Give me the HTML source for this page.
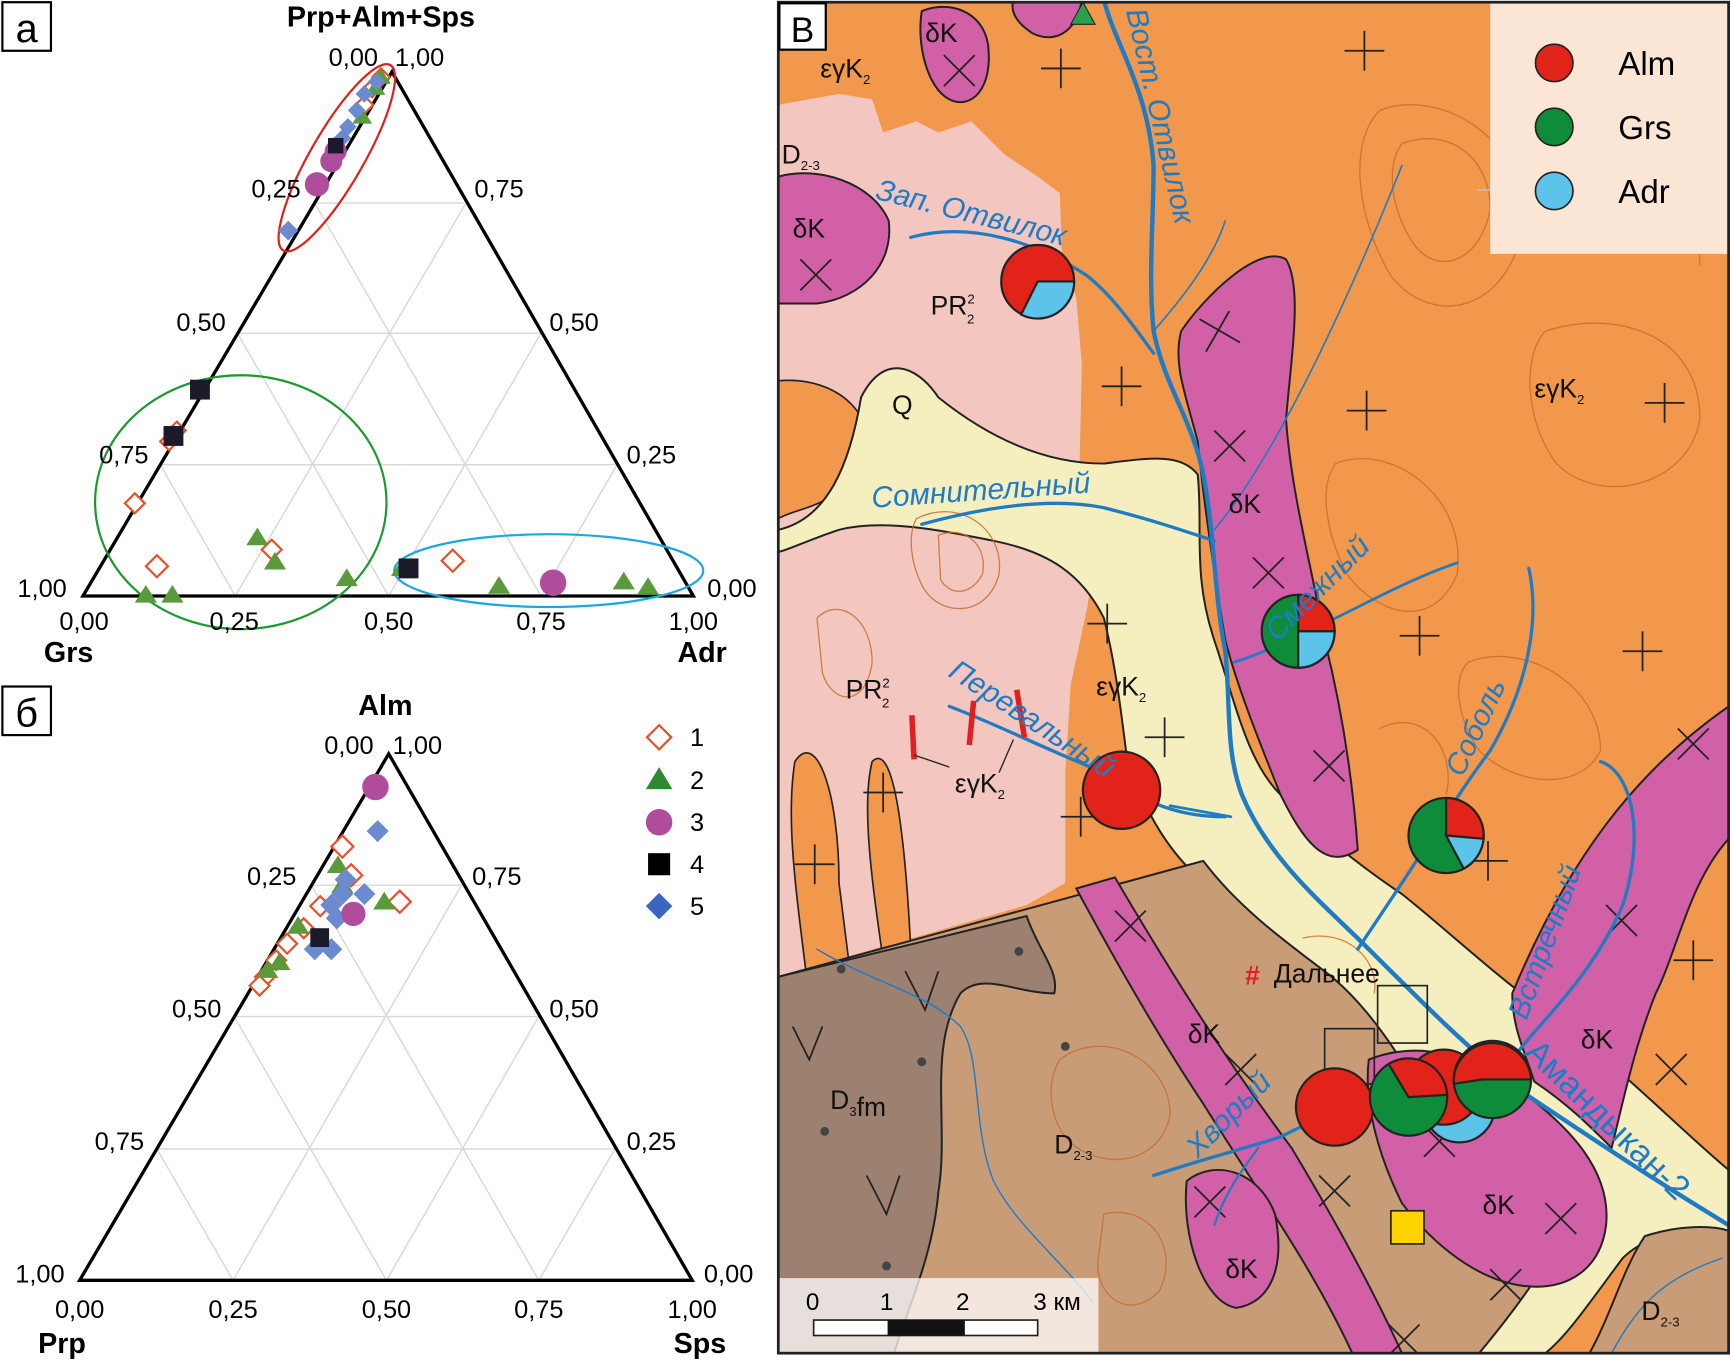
<!DOCTYPE html>
<html><head><meta charset="utf-8"><style>html,body{margin:0;padding:0;background:#fff}svg{display:block}</style></head><body>
<svg width="1731" height="1362" viewBox="0 0 1568 1234" xmlns="http://www.w3.org/2000/svg" font-family="Liberation Sans, Arial, sans-serif">
<defs>
<clipPath id="mc"><rect x="705" y="2" width="861" height="1224"/></clipPath>
</defs>
<!-- ===== Panel a ===== -->
<rect x="2" y="2" width="44" height="44" fill="#fff" stroke="#000" stroke-width="2"/>
<text x="24" y="38" font-size="36" text-anchor="middle">а</text>
<g stroke="#d8d8d8" stroke-width="1.3">
<line x1="145" y1="421" x2="559" y2="421"/><line x1="215" y1="302" x2="490" y2="302"/><line x1="285" y1="184" x2="420" y2="184"/>
<line x1="213" y1="540" x2="422" y2="184"/><line x1="352" y1="540" x2="490" y2="302"/><line x1="490" y1="540" x2="559" y2="421"/>
<line x1="213" y1="540" x2="145" y2="421"/><line x1="352" y1="540" x2="215" y2="302"/><line x1="490" y1="540" x2="285" y2="184"/>
</g>
<polygon points="355,65 75,540 628,540" fill="none" stroke="#000" stroke-width="3"/>
<ellipse cx="305" cy="143" rx="97" ry="24" transform="rotate(-60 305 143)" fill="none" stroke="#e02020" stroke-width="2"/>
<ellipse cx="218" cy="455" rx="132" ry="115" fill="none" stroke="#1a9a30" stroke-width="2"/>
<ellipse cx="497" cy="517" rx="140" ry="33" fill="none" stroke="#1ea6e0" stroke-width="2"/>
<g font-size="23" text-anchor="middle">
<text x="345" y="24" font-weight="bold" font-size="26">Prp+Alm+Sps</text>
<text x="320" y="60">0,00</text><text x="380" y="60">1,00</text>
<text x="250" y="179">0,25</text><text x="452" y="179">0,75</text>
<text x="182" y="300">0,50</text><text x="520" y="300">0,50</text>
<text x="112" y="420">0,75</text><text x="590" y="420">0,25</text>
<text x="38" y="541">1,00</text><text x="663" y="541">0,00</text>
<text x="76" y="571">0,00</text><text x="212" y="571">0,25</text><text x="352" y="571">0,50</text><text x="490" y="571">0,75</text><text x="628" y="571">1,00</text>
<text x="62" y="600" font-weight="bold" font-size="26">Grs</text><text x="636" y="600" font-weight="bold" font-size="26">Adr</text>
</g>
<g fill="#fff" stroke="#e8502a" stroke-width="2">
<path d="M345,62l8,8-8,8-8-8z"/><path d="M337,72l8,8-8,8-8-8z"/><path d="M330,87l8,8-8,8-8-8z"/><path d="M300,135l8,8-8,8-8-8z"/>
<path d="M160,382l8,8-8,8-8-8z"/><path d="M153,392l8,8-8,8-8-8z"/><path d="M122,447l9,9-9,9-9-9z"/><path d="M142,503l10,10-10,10-10-10z"/>
<path d="M246,489l9,9-9,9-9-9z"/><path d="M410,498l10,10-10,10-10-10z"/>
</g>
<g fill="#5a9a3a">
<path d="M345,62l9,14h-18z"/><path d="M340,72l9,14h-18z"/><path d="M328,98l9,14h-18z"/>
<path d="M233,478l10,16h-20z"/><path d="M249,500l10,16h-20z"/><path d="M314,515l10,16h-20z"/><path d="M364,506l10,16h-20z"/>
<path d="M452,522l10,16h-20z"/><path d="M565,518l10,16h-20z"/><path d="M587,523l10,16h-20z"/><path d="M132,530l10,16h-20z"/><path d="M156,530l10,16h-20z"/>
</g>
<g fill="#6c8ad0">
<path d="M341,66l8,8-8,8-8-8z"/><path d="M330,77l8,8-8,8-8-8z"/><path d="M323,92l8,8-8,8-8-8z"/><path d="M315,107l8,8-8,8-8-8z"/><path d="M310,117l8,8-8,8-8-8z"/><path d="M261,200l9,9-9,9-9-9z"/>
</g>
<g fill="#b04c9c"><circle cx="304" cy="137" r="10"/><circle cx="300" cy="146" r="10"/><circle cx="287" cy="167" r="11"/><circle cx="501" cy="528" r="12"/></g>
<g fill="#1a1a2a"><rect x="172" y="344" width="18" height="18"/><rect x="148" y="386" width="18" height="18"/><rect x="361" y="506" width="18" height="18"/><rect x="297" y="125" width="14" height="14"/></g>

<!-- ===== Panel б ===== -->
<rect x="2" y="622" width="44" height="44" fill="#fff" stroke="#000" stroke-width="2"/>
<text x="24" y="658" font-size="36" text-anchor="middle">б</text>
<g stroke="#d8d8d8" stroke-width="1.3">
<line x1="142" y1="1041" x2="557" y2="1041"/><line x1="212" y1="921" x2="488" y2="921"/><line x1="282" y1="802" x2="418" y2="802"/>
<line x1="211" y1="1160" x2="418" y2="802"/><line x1="350" y1="1160" x2="488" y2="921"/><line x1="488" y1="1160" x2="557" y2="1041"/>
<line x1="211" y1="1160" x2="142" y2="1041"/><line x1="350" y1="1160" x2="212" y2="921"/><line x1="488" y1="1160" x2="282" y2="802"/>
</g>
<polygon points="352,683 72,1160 627,1160" fill="none" stroke="#000" stroke-width="3"/>
<g font-size="23" text-anchor="middle">
<text x="349" y="648" font-weight="bold" font-size="26">Alm</text>
<text x="316" y="683">0,00</text><text x="378" y="683">1,00</text>
<text x="246" y="802">0,25</text><text x="450" y="802">0,75</text>
<text x="178" y="922">0,50</text><text x="520" y="922">0,50</text>
<text x="108" y="1042">0,75</text><text x="590" y="1042">0,25</text>
<text x="36" y="1162">1,00</text><text x="660" y="1162">0,00</text>
<text x="72" y="1194">0,00</text><text x="211" y="1194">0,25</text><text x="350" y="1194">0,50</text><text x="488" y="1194">0,75</text><text x="627" y="1194">1,00</text>
<text x="56" y="1226" font-weight="bold" font-size="26">Prp</text><text x="634" y="1226" font-weight="bold" font-size="26">Sps</text>
</g>
<g fill="#fff" stroke="#e8502a" stroke-width="2">
<path d="M310,757l10,10-10,10-10-10z"/><path d="M318,783l10,10-10,10-10-10z"/><path d="M362,807l10,10-10,10-10-10z"/><path d="M290,812l9,9-9,9-9-9z"/><path d="M275,832l9,9-9,9-9-9z"/>
<path d="M260,846l9,9-9,9-9-9z"/><path d="M250,861l9,9-9,9-9-9z"/><path d="M240,876l9,9-9,9-9-9z"/><path d="M235,884l9,9-9,9-9-9z"/>
</g>
<g fill="#5a9a3a">
<path d="M306,775l10,16h-20z"/><path d="M310,793l10,16h-20z"/><path d="M348,808l10,16h-20z"/><path d="M270,830l10,16h-20z"/><path d="M253,863l10,16h-20z"/><path d="M242,870l10,16h-20z"/>
</g>
<g fill="#6c8ad0">
<path d="M342,743l10,10-10,10-10-10z"/><path d="M313,787l10,10-10,10-10-10z"/><path d="M330,800l10,10-10,10-10-10z"/><path d="M300,810l10,10-10,10-10-10z"/><path d="M305,822l10,10-10,10-10-10z"/>
<path d="M285,850l10,10-10,10-10-10z"/><path d="M300,850l10,10-10,10-10-10z"/><path d="M310,800l10,10-10,10-10-10z"/>
</g>
<g fill="#b04c9c"><circle cx="340" cy="713" r="12"/><circle cx="320" cy="828" r="11"/></g>
<rect x="281" y="841" width="17" height="17" fill="#1a1a2a"/>
<path d="M597,657l11,11-11,11-11-11z" fill="#fff" stroke="#e8502a" stroke-width="2"/>
<path d="M597,695l12,20h-24z" fill="#2e8a2e"/>
<circle cx="597" cy="745" r="12" fill="#b04c9c"/>
<rect x="587" y="773" width="20" height="20" fill="#000"/>
<path d="M597,809l12,12-12,12-12-12z" fill="#3a66c0"/>
<g font-size="23"><text x="625" y="676">1</text><text x="625" y="715">2</text><text x="625" y="753">3</text><text x="625" y="791">4</text><text x="625" y="829">5</text></g>

<!-- ===== Map ===== -->
<g clip-path="url(#mc)">
<rect x="705" y="2" width="861" height="1224" fill="#f2984c"/>
<path d="M705,95 L760,85 L790,90 L800,120 L830,110 L850,120 L880,110 L910,140 L940,160 L960,175 L962,230 L975,270 L980,330 L978,420 L995,480 L985,550 L970,620 L965,700 L965,800 L930,820 L705,885 Z" fill="#f3c6c0"/>
<path d="M720,690 C740,660 760,720 760,800 L770,880 L730,880 C720,800 712,740 720,690Z" fill="#f2984c" stroke="#222" stroke-width="1.5"/>
<path d="M790,690 C810,670 820,760 825,860 L800,870 C790,800 780,730 790,690Z" fill="#f2984c" stroke="#222" stroke-width="1.5"/>
<path d="M705,345 C760,340 800,380 780,420 C760,460 720,460 705,470Z" fill="#f2984c" stroke="#222" stroke-width="1.5"/>
<path d="M705,480 C750,470 770,420 780,360 C800,320 830,330 850,360 C900,400 950,420 1000,420 C1040,415 1070,410 1085,430 C1090,480 1080,520 1100,580 C1120,640 1130,690 1160,720 C1200,760 1240,790 1270,810 C1320,850 1360,890 1420,930 C1480,980 1530,1030 1566,1060 L1566,1120 C1540,1120 1500,1110 1470,1140 C1440,1180 1420,1210 1400,1226 L1330,1226 C1360,1190 1400,1150 1420,1110 C1380,1080 1330,1050 1280,1030 C1250,1000 1230,960 1200,920 C1160,870 1120,830 1080,790 C1050,760 1030,720 1020,680 C1015,640 1010,600 1000,560 C980,520 950,500 900,490 C850,480 800,470 760,480 C730,490 710,500 705,500Z" fill="#f5efc0" stroke="#222" stroke-width="1.8"/>
<path d="M1000,1160 C1010,1190 1020,1210 1020,1226 L990,1226 C990,1200 992,1180 1000,1160Z" fill="#f5efc0"/>
<path d="M705,885 L1090,780 C1120,820 1160,850 1200,880 C1240,910 1270,960 1300,1010 C1340,1050 1390,1080 1420,1110 C1400,1150 1370,1190 1340,1226 L705,1226Z" fill="#c99c78" stroke="#222" stroke-width="1.8"/>
<path d="M1490,1120 C1520,1110 1550,1110 1566,1115 L1566,1226 L1440,1226 C1460,1190 1470,1150 1490,1120Z" fill="#c99c78" stroke="#222" stroke-width="1.8"/>
<path d="M705,885 L930,830 C940,860 960,880 955,900 C920,900 890,880 870,900 C840,950 860,1020 850,1080 C845,1140 820,1190 810,1226 L705,1226Z" fill="#9c8070" stroke="#222" stroke-width="1.8"/>
<g fill="#d260a6" stroke="#222" stroke-width="1.8">
<path d="M918,0 L980,0 C975,30 955,40 935,30 C920,20 915,10 918,0Z"/>
<path d="M835,10 C860,0 890,10 895,40 C900,80 880,100 860,90 C840,80 830,40 835,10Z"/>
<path d="M705,160 C740,150 790,165 805,200 C810,240 780,270 740,275 L705,275Z"/>
<path d="M1070,300 C1090,270 1140,220 1165,235 C1180,260 1170,320 1165,380 C1170,450 1190,520 1200,580 C1215,640 1225,700 1230,770 C1200,790 1180,760 1160,720 C1140,670 1120,620 1110,580 C1100,520 1090,450 1085,400 C1075,360 1062,330 1070,300Z"/>
<path d="M975,805 L1010,795 C1060,880 1110,960 1170,1040 C1200,1090 1240,1160 1270,1226 L1225,1226 C1190,1150 1140,1080 1090,1000 C1050,940 1010,870 975,805Z"/>
<path d="M1240,960 C1290,940 1340,960 1380,990 C1420,1020 1460,1060 1455,1110 C1450,1150 1420,1170 1380,1165 C1340,1160 1300,1130 1270,1090 C1250,1050 1235,1000 1240,960Z"/>
<path d="M1075,1070 C1100,1050 1140,1060 1155,1100 C1165,1150 1150,1180 1120,1185 C1090,1180 1070,1120 1075,1070Z"/>
<path d="M1370,900 C1420,780 1480,700 1566,640 L1566,760 C1530,800 1520,860 1500,900 C1480,950 1470,1000 1460,1040 C1440,1020 1420,1000 1390,980 C1380,950 1370,930 1370,900Z"/>
</g>
<g fill="none" stroke="#c86a2a" stroke-width="1.2" opacity="0.8">
<path d="M1250,100 C1300,80 1380,120 1380,200 C1370,280 1300,300 1260,250 C1230,200 1220,130 1250,100Z"/>
<path d="M1270,130 C1310,115 1350,140 1350,190 C1340,240 1300,250 1280,220 C1260,190 1255,150 1270,130Z"/>
<path d="M1400,300 C1460,280 1540,300 1540,380 C1530,440 1450,460 1410,420 C1380,380 1380,320 1400,300Z"/>
<path d="M1210,420 C1260,400 1330,450 1320,520 C1300,570 1250,560 1220,520 C1200,480 1195,440 1210,420Z"/>
<path d="M1330,600 C1380,580 1450,620 1450,680 C1430,720 1370,710 1340,680 C1320,650 1315,615 1330,600Z"/>
<path d="M830,470 C870,450 910,480 905,520 C895,560 850,560 835,530 C825,510 822,485 830,470Z"/>
<path d="M850,485 C875,475 895,495 890,520 C880,540 860,540 852,525Z"/>
<path d="M960,960 C1000,930 1060,960 1060,1010 C1050,1060 990,1060 965,1030 C950,1010 948,980 960,960Z"/>
<path d="M1000,1100 C1040,1090 1070,1130 1050,1170 C1020,1200 990,1170 995,1140Z"/>
<path d="M740,560 C760,540 790,560 790,600 C785,640 755,640 745,610Z"/>
<path d="M1180,850 C1220,840 1250,870 1245,900"/>
<path d="M1420,150 C1480,140 1540,180 1540,240"/>
<path d="M1250,660 C1290,640 1320,680 1310,720"/>
</g>
<g stroke="#222" stroke-width="1.6" fill="none">
<path d="M943,62h36M961,44v36"/><path d="M1218,46h36M1236,28v36"/><path d="M998,350h36M1016,332v36"/><path d="M1220,372h36M1238,354v36"/>
<path d="M1490,365h36M1508,347v36"/><path d="M985,565h36M1003,547v36"/><path d="M1268,576h36M1286,558v36"/><path d="M1470,590h36M1488,572v36"/>
<path d="M1037,668h36M1055,650v36"/><path d="M782,718h36M800,700v36"/><path d="M961,740h36M979,722v36"/><path d="M720,783h36M738,765v36"/>
<path d="M1330,780h36M1348,762v36"/><path d="M1516,870h36M1534,852v36"/>
<path d="M1090,285l30,30M1118,285l-30,30" transform="rotate(-15 1104 300)"/>
<path d="M1100,390l28,28M1128,390l-28,28"/><path d="M1135,505l28,28M1163,505l-28,28"/><path d="M1190,680l28,28M1218,680l-28,28"/>
<path d="M725,235l28,28M753,235l-28,28"/><path d="M855,50l28,28M883,50l-28,28"/>
<path d="M1010,825l28,28M1038,825l-28,28"/><path d="M1110,955l28,28M1138,955l-28,28"/><path d="M1195,1065l28,28M1223,1065l-28,28"/>
<path d="M1290,1020l28,28M1318,1020l-28,28"/><path d="M1400,1090l28,28M1428,1090l-28,28"/><path d="M1500,955l28,28M1528,955l-28,28"/>
<path d="M1455,820l28,28M1483,820l-28,28"/><path d="M1520,660l28,28M1548,660l-28,28"/><path d="M1350,1150l28,28M1378,1150l-28,28"/><path d="M1258,1200l28,28M1286,1200l-28,28"/><path d="M1082,1075l28,28M1110,1075l-28,28"/>
<path d="M1338,172h36M1356,154v36" stroke="#bbb"/>
</g>
<g stroke="#222" stroke-width="1.6" fill="none">
<path d="M820,880l18,35l12,-35"/><path d="M718,930l15,30l12,-30"/><path d="M785,1065l18,35l12,-35"/>
</g>
<g fill="#444"><circle cx="762" cy="878" r="4"/><circle cx="923" cy="862" r="4"/><circle cx="965" cy="948" r="4"/><circle cx="835" cy="962" r="4"/><circle cx="747" cy="1025" r="4"/><circle cx="803" cy="1147" r="4"/></g>
<g fill="none" stroke="#1f7cc4" stroke-linecap="round">
<path d="M1000,0 C1010,40 1040,80 1045,150 C1045,200 1040,250 1045,300 C1055,350 1080,380 1090,430 C1100,480 1100,540 1110,590 C1115,640 1110,680 1125,720 C1150,780 1200,820 1240,860 C1290,910 1330,950 1380,990 C1440,1030 1500,1070 1566,1110" stroke-width="4"/>
<path d="M825,215 C880,200 940,220 985,250 C1010,270 1030,300 1045,320" stroke-width="3"/>
<path d="M835,475 C890,460 950,450 1000,460 C1040,470 1070,480 1100,490" stroke-width="3"/>
<path d="M860,640 C900,655 950,680 1000,700 C1040,730 1070,740 1110,740" stroke-width="3"/>
<path d="M1060,730 L1115,740" stroke-width="2.5"/>
<path d="M1118,600 C1150,590 1190,570 1230,550 C1260,535 1290,520 1320,510" stroke-width="2.5"/>
<path d="M1385,515 C1395,560 1385,620 1350,680 C1320,720 1290,770 1270,800 C1250,830 1240,845 1230,860" stroke-width="3"/>
<path d="M1450,690 C1480,700 1490,760 1470,820 C1440,890 1390,930 1370,960" stroke-width="3"/>
<path d="M1045,1065 C1090,1050 1130,1040 1160,1030 C1180,1020 1200,1010 1220,1005" stroke-width="3"/>
<path d="M1140,1040 C1125,1060 1110,1080 1100,1110" stroke-width="2"/>
<path d="M1045,300 C1080,260 1100,230 1110,200" stroke-width="1.5"/>
<path d="M1100,480 C1150,420 1210,300 1270,150" stroke-width="1.5"/>
<path d="M740,860 C790,890 840,900 870,930 C890,960 880,1020 900,1070 C920,1110 960,1140 990,1180" stroke-width="1.3"/>
<path d="M1460,1226 C1480,1190 1500,1160 1560,1140" stroke-width="1.3"/>
</g>
<rect x="1248" y="893" width="45" height="52" fill="none" stroke="#222" stroke-width="1.5"/>
<rect x="1200" y="932" width="45" height="50" fill="none" stroke="#222" stroke-width="1.5"/>
<rect x="1260" y="1097" width="30" height="30" fill="#ffd200" stroke="#222" stroke-width="1.5"/>
<path d="M981,2l11,20h-22z" fill="#2aa04a" stroke="#222" stroke-width="1"/>
<g stroke="#e02020" stroke-width="5"><line x1="826" y1="648" x2="828" y2="688"/><line x1="882" y1="635" x2="878" y2="675"/><line x1="921" y1="625" x2="928" y2="668"/></g>
<path d="M828,684 L860,695 M918,670 L905,700" stroke="#222" stroke-width="1.2" fill="none"/>
<g stroke="#222" stroke-width="2">
<circle cx="940" cy="255" r="33" fill="#e2231a"/><path d="M940,255 L973,255 A33,33 0 0 1 925,285 Z" fill="#5bc4e8"/>
<circle cx="1176" cy="572" r="33" fill="#0e8c3a"/><path d="M1176,572 L1176,539 A33,33 0 0 1 1209,572 Z" fill="#e2231a"/><path d="M1176,572 L1209,572 A33,33 0 0 1 1176,605 Z" fill="#5bc4e8"/>
<circle cx="1016" cy="716" r="35" fill="#e2231a"/>
<circle cx="1310" cy="757" r="34" fill="#0e8c3a"/><path d="M1310,757 L1310,723 A34,34 0 0 1 1344,760 Z" fill="#e2231a"/><path d="M1310,757 L1344,760 A34,34 0 0 1 1326,787 Z" fill="#5bc4e8"/>
<circle cx="1322" cy="1003" r="32" fill="#5bc4e8"/>
<circle cx="1308" cy="985" r="34" fill="#e2231a"/>
<circle cx="1209" cy="1003" r="35" fill="#e2231a"/>
<circle cx="1276" cy="994" r="35" fill="#0e8c3a"/><path d="M1276,994 L1258,964 A35,35 0 0 1 1311,992 Z" fill="#e2231a"/>
<circle cx="1352" cy="978" r="35" fill="#0e8c3a"/><path d="M1317,982 A35,35 0 0 1 1387,978 L1343,978 Z" fill="#e2231a"/>
</g>
<g font-size="24" fill="#111">
<text x="838" y="38">δK</text><text x="718" y="215">δK</text><text x="1113" y="465">δK</text><text x="1076" y="945">δK</text><text x="1432" y="950">δK</text><text x="1343" y="1100">δK</text><text x="1110" y="1158">δK</text>
<text x="743" y="70">εγK<tspan font-size="12" dy="6">2</tspan></text>
<text x="1390" y="360">εγK<tspan font-size="12" dy="6">2</tspan></text>
<text x="993" y="630">εγK<tspan font-size="12" dy="6">2</tspan></text>
<text x="865" y="718">εγK<tspan font-size="12" dy="6">2</tspan></text>
<text x="843" y="285">PR<tspan font-size="12" dy="-10">2</tspan><tspan font-size="12" dx="-7" dy="18">2</tspan></text>
<text x="766" y="633">PR<tspan font-size="12" dy="-10">2</tspan><tspan font-size="12" dx="-7" dy="18">2</tspan></text>
<text x="808" y="375">Q</text>
<text x="708" y="148">D<tspan font-size="12" dy="6">2-3</tspan></text>
<text x="955" y="1045">D<tspan font-size="12" dy="6">2-3</tspan></text>
<text x="1487" y="1196">D<tspan font-size="12" dy="6">2-3</tspan></text>
<text x="752" y="1005">D<tspan font-size="12" dy="6">3</tspan>fm</text>
<text x="1154" y="890">Дальнее</text>
</g>
<text x="1128" y="892" font-size="24" fill="#e02020" font-weight="bold">#</text>
<g font-size="27" fill="#1f7cc4" font-style="italic">
<text transform="translate(792,180) rotate(14)">Зап. Отвилок</text>
<text transform="translate(1020,10) rotate(77)">Вост. Отвилок</text>
<text transform="translate(790,460) rotate(-4)">Сомнительный</text>
<text transform="translate(1157,582) rotate(-45)">Смежный</text>
<text transform="translate(858,612) rotate(33)">Перевальный</text>
<text transform="translate(1325,705) rotate(-65)">Соболь</text>
<text transform="translate(1383,925) rotate(-70)">Встречный</text>
<text transform="translate(1085,1050) rotate(-45)">Хворый</text>
<text transform="translate(1380,955) rotate(44)" font-style="normal" font-size="31">Амандыкан-2</text>
</g>
<rect x="1350" y="2" width="218" height="228" fill="#fbe6d6"/>
<g stroke="#222" stroke-width="1.5"><circle cx="1408" cy="57" r="17" fill="#e2231a"/><circle cx="1408" cy="115" r="17" fill="#0e8c3a"/><circle cx="1408" cy="173" r="17" fill="#5bc4e8"/></g>
<g font-size="30"><text x="1466" y="68">Alm</text><text x="1466" y="126">Grs</text><text x="1466" y="184">Adr</text></g>
<rect x="705" y="1158" width="290" height="68" fill="#fff" opacity="0.75"/>
<rect x="737" y="1196" width="203" height="14" fill="#fff" stroke="#222" stroke-width="1.5"/>
<rect x="804" y="1196" width="70" height="14" fill="#111"/>
<g font-size="22"><text x="730" y="1187">0</text><text x="797" y="1187">1</text><text x="866" y="1187">2</text><text x="936" y="1187">3 км</text></g>
</g>
<rect x="705" y="2" width="861" height="1224" fill="none" stroke="#222" stroke-width="2.5"/>
<rect x="706" y="3" width="42" height="42" fill="#fff" stroke="#000" stroke-width="2"/>
<text x="727" y="38" font-size="32" text-anchor="middle">В</text>
</svg>
</body></html>
